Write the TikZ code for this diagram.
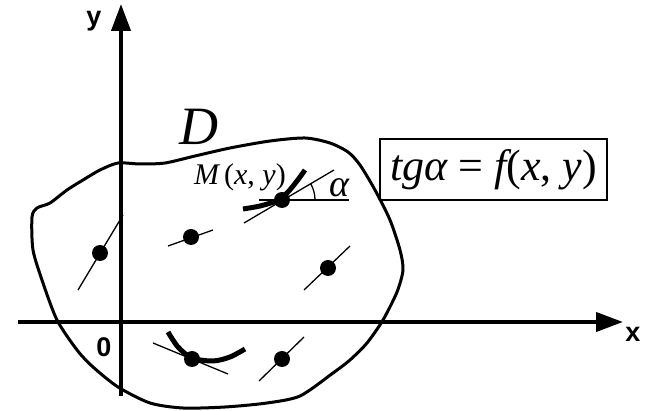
\documentclass[tikz,border=0pt]{standalone}
\usepackage{fontspec}
\setmainfont{Liberation Serif}
\newfontfamily\axisfont{Liberation Sans}
\usepackage{tikz}
\usetikzlibrary{arrows.meta,calc}

\begin{document}
\begin{tikzpicture}[
  x=1pt, y=-1pt,
  axis/.style={line width=4pt, -{Triangle[length=27pt,width=19pt]}},
  axislabel/.style={font=\axisfont\bfseries\fontsize{27}{30}\selectfont, inner sep=0pt},
  border/.style={line width=3pt, line join=round},
  curve/.style={line width=5pt},
  tangent/.style={line width=1.3pt},
  dot/.style={circle, fill=black, inner sep=0pt, minimum size=16pt},
  formula/.style={draw, line width=2pt, minimum width=227pt, minimum height=61pt, inner sep=0pt, font=\fontsize{44}{50}\selectfont}
]
\useasboundingbox (0,0) rectangle (646,411);

% axes
\coordinate (xstart) at (18,322);
\coordinate (xend) at (623,322);
\coordinate (ystart) at (121,396);
\coordinate (yend) at (121,4);
\draw[axis] (xstart) -- (xend);
\draw[axis] (ystart) -- (yend);
\node[axislabel] (ylab) at (94,21) {y};
\node[axislabel] (xlab) at (633,334) {x};
\node[axislabel] (origin) at (104,347) {0};

% region D
\draw[border] plot[smooth cycle, tension=0.45] coordinates {
  (118,163) (140,164) (165,163) (195,156) (230,148) (270,141) (305,138)
  (330,143) (348,152) (360,165) (375,190) (390,220) (400,250) (403,270)
  (397,292) (383,320) (367,343) (350,360) (333,373) (300,396) (267,403)
  (225,407) (183,408) (150,403) (118,387) (93,367) (77,350) (57,320)
  (43,283) (33,250) (32,217) (37,208) (50,203) (67,190) (83,180) (100,170)};
\node (dlab) at (199,127) {\fontsize{54}{60}\selectfont\itshape D};

% integral curves
\draw[curve] plot[smooth] coordinates {(243,209) (260,206) (276,201) (287,193) (297,181) (305,170)};
\draw[curve] plot[smooth] coordinates {(168,332) (178,347) (192,358) (213,361) (230,357) (245,349)};

% points with direction segments
\node[dot] (p1) at (100,253) {};
\node[dot] (p2) at (191,237) {};
\node[dot] (pm) at (282,200) {};
\node[dot] (p4) at (328,268) {};
\node[dot] (p5) at (192,359) {};
\node[dot] (p6) at (282,359) {};
\draw[tangent] ($(p1)+(-22,37)$) -- ($(p1)+(23,-38)$);
\draw[tangent] ($(p2)+(-23,9)$) -- ($(p2)+(22,-7)$);
\draw[tangent] ($(pm)+(-38,23)$) -- ($(pm)+(52,-30)$);
\draw[tangent] ($(pm)+(-23,0)$) -- ($(pm)+(67,0)$);
\draw[tangent] ($(pm)+(33,0)$) arc (0:-30:33);
\draw[tangent] ($(p4)+(-24,22)$) -- ($(p4)+(22,-22)$);
\draw[tangent] ($(p5)+(-39,-16)$) -- ($(p5)+(36,15)$);
\draw[tangent] ($(p6)+(-23,22)$) -- ($(p6)+(22,-22)$);

\node (mlab) at (240,177) {\fontsize{30}{34}\selectfont\itshape M\,\upshape(\itshape x\upshape, \itshape y\upshape)};
\node (alab) at (339,188) {\fontsize{38}{42}\selectfont\itshape α};
\node[formula] (eq) at (493.5,169.5) {\itshape tgα \upshape= \itshape f\upshape(\itshape x\upshape, \itshape y\upshape)};
\end{tikzpicture}
\end{document}
